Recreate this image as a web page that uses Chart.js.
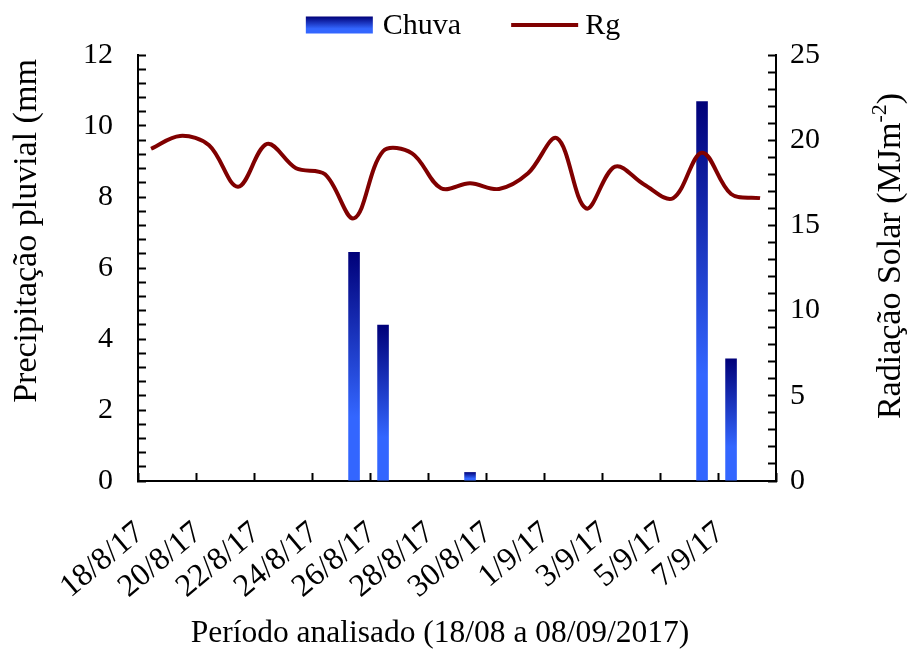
<!DOCTYPE html>
<html>
<head>
<meta charset="utf-8">
<script src="https://cdn.jsdelivr.net/npm/chart.js@4.4.1/dist/chart.umd.min.js"></script>
<style>
html,body{margin:0;padding:0;background:#fff;}
canvas{display:block;}
</style>
</head>
<body>
<canvas id="c" width="909" height="649"></canvas>
<script>
// ---- data ----
const dates = ['18/8/17','19/8/17','20/8/17','21/8/17','22/8/17','23/8/17','24/8/17','25/8/17','26/8/17','27/8/17','28/8/17','29/8/17','30/8/17','31/8/17','1/9/17','2/9/17','3/9/17','4/9/17','5/9/17','6/9/17','7/9/17','8/9/17'];
const chuva = [0,0,0,0,0,0,0,6.45,4.4,0,0,0.25,0,0,0,0,0,0,0,10.7,3.45,0];
const rg = [19.5,20.25,19.7,17.27,19.78,18.35,18.0,15.42,19.35,19.23,17.18,17.47,17.14,18.06,20.11,16.0,18.45,17.4,16.6,19.27,16.84,16.6];
const xTickLabels = ['18/8/17','20/8/17','22/8/17','24/8/17','26/8/17','28/8/17','30/8/17','1/9/17','3/9/17','5/9/17','7/9/17',''];
const leftTickLabels = [0,2,4,6,8,10,12];
const rightTickLabels = [0,5,10,15,20,25];

const FONT = '"Liberation Serif", "Times New Roman", serif';
const SLOT = 0.45; // date axis: ticks sit at start of each day slot

function barGradient(ctx, yTop, yBase) {
  const g = ctx.createLinearGradient(0, yTop, 0, yBase);
  g.addColorStop(0, '#000078');
  g.addColorStop(0.72, '#3366ff');
  g.addColorStop(1, '#3366ff');
  return g;
}

const decor = {
  id: 'decor',
  afterDraw(chart) {
    const c = chart.ctx;
    c.save();
    c.fillStyle = '#000';
    c.textBaseline = 'middle';
    c.textAlign = 'center';
    c.font = '31.5px ' + FONT;
    c.fillText('Período analisado (18/08 a 08/09/2017)', 440, 634);

    c.save();
    c.translate(27, 231);
    c.rotate(-Math.PI / 2);
    c.font = '34px ' + FONT;
    c.fillText('Precipitação pluvial (mm', 0, 0);
    c.restore();

    c.save();
    c.translate(891, 256);
    c.rotate(-Math.PI / 2);
    const main = 'Radiação Solar (MJm', sup = '-2', close = ')';
    c.font = '34px ' + FONT;
    const w1 = c.measureText(main).width, w3 = c.measureText(close).width;
    c.font = '22px ' + FONT;
    const w2 = c.measureText(sup).width;
    const x0 = -(w1 + w2 + w3) / 2;
    c.textAlign = 'left';
    c.font = '34px ' + FONT; c.fillText(main, x0, 0);
    c.font = '22px ' + FONT; c.fillText(sup, x0 + w1, -11);
    c.font = '34px ' + FONT; c.fillText(close, x0 + w1 + w2, 0);
    c.restore();

    // legend
    c.font = '30px ' + FONT;
    c.textAlign = 'left';
    const sw = 67, sh = 17, gap1 = 10, between = 50, gap2 = 7;
    const t1 = c.measureText('Chuva').width, t2 = c.measureText('Rg').width;
    const total = sw + gap1 + t1 + between + sw + gap2 + t2;
    const lx = 463 - total / 2, ly = 25;
    c.fillStyle = barGradient(c, ly - sh / 2, ly + sh / 2);
    c.fillRect(lx, ly - sh / 2, sw, sh);
    c.fillStyle = '#000';
    c.fillText('Chuva', lx + sw + gap1, ly + 1);
    const lx2 = lx + sw + gap1 + t1 + between;
    c.strokeStyle = '#800000';
    c.lineWidth = 4;
    c.beginPath(); c.moveTo(lx2, ly); c.lineTo(lx2 + sw, ly); c.stroke();
    c.fillText('Rg', lx2 + sw + gap2, ly + 1);
    c.restore();
  }
};

new Chart(document.getElementById('c'), {
  type: 'bar',
  data: {
    datasets: [
      {
        type: 'bar',
        label: 'Chuva',
        data: chuva.map((v, i) => ({x: i, y: v})),
        yAxisID: 'y',
        order: 1,
        categoryPercentage: 0.4,
        barPercentage: 1,
        borderWidth: 0,
        backgroundColor: (ctx) => {
          const chart = ctx.chart;
          if (ctx.type !== 'data' || !chart.chartArea) return '#3366ff';
          const y = chart.scales.y;
          const yTop = y.getPixelForValue(ctx.raw.y), yBase = y.getPixelForValue(0);
          if (yBase - yTop < 0.5) return '#3366ff';
          return barGradient(chart.ctx, yTop, yBase);
        }
      },
      {
        type: 'line',
        label: 'Rg',
        data: rg.map((v, i) => ({x: i, y: v})),
        yAxisID: 'y1',
        order: 0,
        borderColor: '#800000',
        borderWidth: 4,
        pointRadius: 0,
        fill: false,
        tension: 0.35
      }
    ]
  },
  options: {
    responsive: false,
    animation: false,
    devicePixelRatio: 1,
    layout: {padding: {top: 55, left: 0, right: 0, bottom: 0}},
    plugins: {legend: {display: false}, tooltip: {enabled: false}},
    scales: {
      x: {
        type: 'linear',
        position: 'bottom',
        min: -SLOT,
        max: dates.length - SLOT,
        offset: false,
        afterBuildTicks: (s) => { s.ticks = xTickLabels.map((_, k) => ({value: 2 * k - SLOT})); },
        afterFit: (s) => { s.height = 168; },
        ticks: {
          autoSkip: false,
          minRotation: 40,
          maxRotation: 40,
          padding: 41,
          labelOffset: 2,
          color: '#000',
          font: {family: FONT, size: 32},
          callback: (v, i) => xTickLabels[i]
        },
        grid: {offset: false, drawOnChartArea: false, tickLength: -8, tickWidth: 2, tickColor: '#000'},
        border: {display: true, color: '#000', width: 2}
      },
      y: {
        type: 'linear',
        position: 'left',
        min: 0,
        max: 12,
        afterFit: (s) => { s.width = 138; },
        ticks: {
          stepSize: 0.4,
          autoSkip: false,
          padding: 33,
          color: '#000',
          font: {family: FONT, size: 30},
          callback: (v) => { const r = Math.round(v * 10) / 10; return leftTickLabels.includes(r) ? String(r) : ''; }
        },
        grid: {offset: false, drawOnChartArea: false, tickLength: -8, tickWidth: 2, tickColor: '#000'},
        border: {display: true, color: '#000', width: 2}
      },
      y1: {
        type: 'linear',
        position: 'right',
        min: 0,
        max: 25,
        afterFit: (s) => { s.width = 133; },
        ticks: {
          stepSize: 1,
          autoSkip: false,
          padding: 22,
          color: '#000',
          font: {family: FONT, size: 30},
          callback: (v) => rightTickLabels.includes(v) ? String(v) : ''
        },
        grid: {offset: false, drawOnChartArea: false, tickLength: -8, tickWidth: 2, tickColor: '#000'},
        border: {display: true, color: '#000', width: 2}
      }
    }
  },
  plugins: [decor]
});
</script>
</body>
</html>
